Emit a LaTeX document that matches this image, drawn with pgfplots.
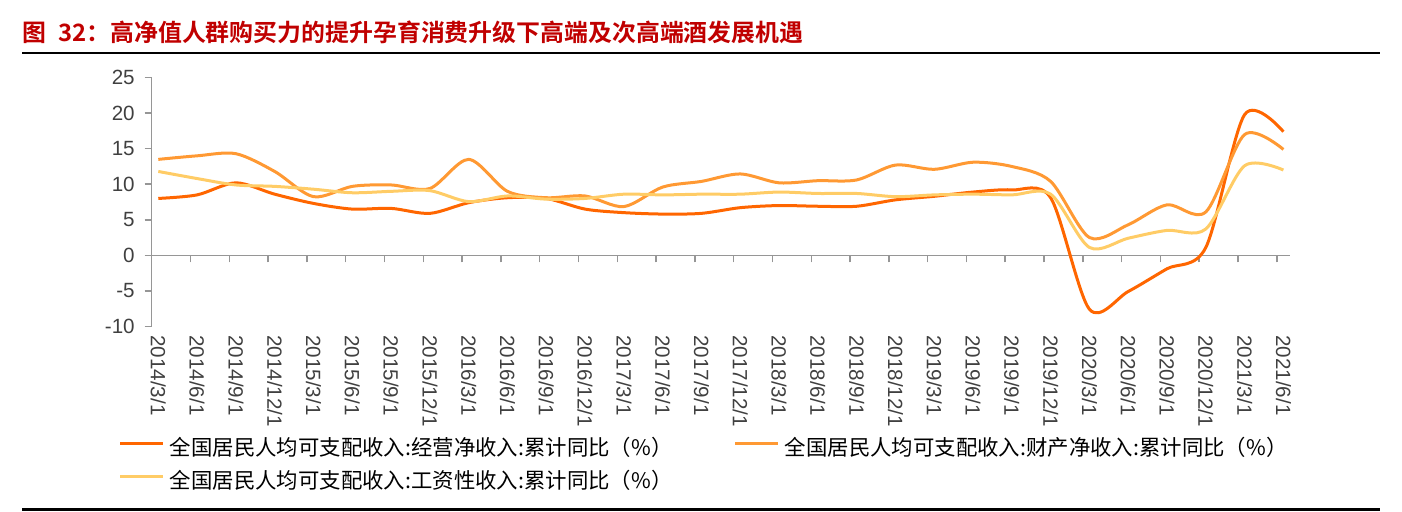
\documentclass[border=0pt]{standalone}
\usepackage{pgfplots}
\pgfplotsset{compat=1.18}
\usepackage{fontspec}
\setmainfont{Liberation Sans}
\newfontfamily\cjk{Noto Sans CJK SC}
\newfontfamily\cjkbold{Noto Sans CJK SC Bold}
\definecolor{sA}{RGB}{255,102,0}
\definecolor{sB}{RGB}{255,153,51}
\definecolor{sC}{RGB}{255,204,102}
\definecolor{axisgray}{RGB}{150,150,150}
\definecolor{ticktext}{RGB}{64,64,64}
\definecolor{titlered}{RGB}{192,0,0}
\begin{document}
\begin{tikzpicture}
\path[use as bounding box] (0pt,0pt) rectangle (701pt,256pt);
% zero line with tick marks
\begin{axis}[
  at={(75.85pt,92.85pt)}, anchor=south west, scale only axis,
  width=569.15pt, height=124.3pt,
  xmin=-0.17, xmax=29.17, ymin=-10, ymax=25,
  axis x line=middle, axis y line=none,
  every inner x axis line/.append style={-},
  x axis line style={-, draw=axisgray, line width=0.75pt},
  xtick={-0.17,0.83,1.83,2.83,3.83,4.83,5.83,6.83,7.83,8.83,9.83,10.83,11.83,12.83,13.83,14.83,15.83,16.83,17.83,18.83,19.83,20.83,21.83,22.83,23.83,24.83,25.83,26.83,27.83,28.83},
  xticklabels={}, ytick=\empty,
  xtick align=outside, major tick length=3.5pt,
  x tick style={draw=axisgray, line width=0.75pt},
]
\addplot[draw=none, forget plot] coordinates {(0,0)};
\end{axis}
\begin{axis}[
  at={(75.85pt,92.85pt)}, anchor=south west, scale only axis,
  width=569.15pt, height=124.3pt,
  xmin=-0.17, xmax=29.17, ymin=-10, ymax=25,
  axis y line*=left, axis x line*=bottom,
  x axis line style={draw=none},
  y axis line style={-, draw=axisgray, line width=0.75pt},
  ytick={-10,-5,0,5,10,15,20,25},
  ytick align=outside, major tick length=3.5pt,
  y tick style={draw=axisgray, line width=0.75pt},
  major x tick style={draw=none},
  xtick={0,...,29},
  xticklabels={2014/3/1,2014/6/1,2014/9/1,2014/12/1,2015/3/1,2015/6/1,2015/9/1,2015/12/1,2016/3/1,2016/6/1,2016/9/1,2016/12/1,2017/3/1,2017/6/1,2017/9/1,2017/12/1,2018/3/1,2018/6/1,2018/9/1,2018/12/1,2019/3/1,2019/6/1,2019/9/1,2019/12/1,2020/3/1,2020/6/1,2020/9/1,2020/12/1,2021/3/1,2021/6/1},
  /pgf/number format/assume math mode=true,
  ticklabel style={font=\fontsize{10.3}{12}\selectfont, text=ticktext},
  yticklabel style={anchor=east, inner sep=0pt, xshift=-4.8pt},
  xticklabel style={yshift=-4.35pt, rotate=-90, anchor=west, inner sep=0pt},
  legend columns=2,
  legend style={at={(-0.02873,-0.4582)}, anchor=north west, draw=none, fill=none,
    inner sep=0pt, outer sep=0pt, row sep=6.5pt,
    nodes={inner sep=0pt, text height=7.5pt, text depth=2.5pt},
    /tikz/every odd column/.style={column sep=2.5pt},
    /tikz/every even column/.style={column sep=39pt}},
  legend cell align=left,
  legend image code/.code={\draw[#1, line width=1.5pt] (0pt,3.2pt) -- (21.5pt,3.2pt);},
]
\addplot[sA, line width=1.5pt, smooth, tension=0.5] coordinates {
(0,8.0) (1,8.5) (2,10.2) (3,8.6) (4,7.3) (5,6.5) (6,6.6) (7,5.9) (8,7.4) (9,8.1)
(10,8.0) (11,6.5) (12,6.0) (13,5.8) (14,5.9) (15,6.7) (16,7.0) (17,6.9) (18,6.9) (19,7.8)
(20,8.3) (21,8.9) (22,9.2) (23,8.1) (24,-7.6) (25,-5.1) (26,-1.9) (27,1.1) (28,19.8) (29,17.4)};
\addlegendentry{\makebox[243pt][l]{\cjk\fontsize{10.7}{12}\selectfont 全国居民人均可支配收入:经营净收入:累计同比（\%）}}
\addplot[sB, line width=1.5pt, smooth, tension=0.5] coordinates {
(0,13.5) (1,14.0) (2,14.3) (3,11.8) (4,8.25) (5,9.7) (6,9.9) (7,9.4) (8,13.5) (9,9.0)
(10,8.1) (11,8.35) (12,6.85) (13,9.6) (14,10.4) (15,11.45) (16,10.2) (17,10.5) (18,10.6) (19,12.7)
(20,12.1) (21,13.1) (22,12.5) (23,10.4) (24,2.5) (25,4.3) (26,7.1) (27,6.1) (28,17.0) (29,14.9)};
\addlegendentry{\makebox[243pt][l]{\cjk\fontsize{10.7}{12}\selectfont 全国居民人均可支配收入:财产净收入:累计同比（\%）}}
\addplot[sC, line width=1.5pt, smooth, tension=0.5] coordinates {
(0,11.8) (1,10.8) (2,9.9) (3,9.7) (4,9.3) (5,8.8) (6,9.0) (7,9.1) (8,7.55) (9,8.35)
(10,7.9) (11,8.0) (12,8.6) (13,8.5) (14,8.6) (15,8.6) (16,8.9) (17,8.7) (18,8.7) (19,8.25)
(20,8.5) (21,8.6) (22,8.5) (23,8.6) (24,1.1) (25,2.4) (26,3.5) (27,3.7) (28,12.6) (29,12.0)};
\addlegendentry{\makebox[243pt][l]{\cjk\fontsize{10.7}{12}\selectfont 全国居民人均可支配收入:工资性收入:累计同比（\%）}}
\end{axis}
\node[anchor=west, inner sep=0pt, text=titlered, font=\cjkbold\fontsize{11.95}{14}\selectfont] at (11pt,240pt) {图\hspace{0.5em}32：高净值人群购买力的提升孕育消费升级下高端及次高端酒发展机遇};
\draw[line width=1pt] (11pt,229.5pt) -- (690pt,229.5pt);
\draw[line width=1.5pt] (11pt,1pt) -- (690pt,1pt);
\end{tikzpicture}
\end{document}
